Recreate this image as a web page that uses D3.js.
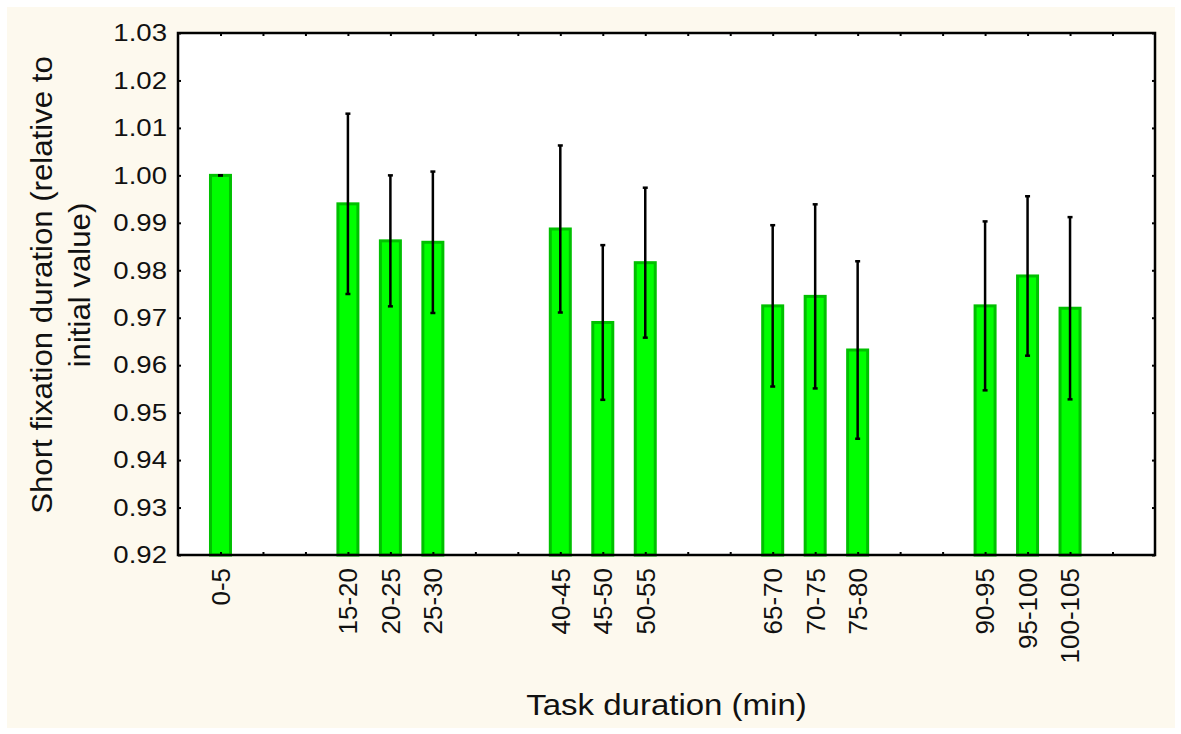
<!DOCTYPE html>
<html>
<head>
<meta charset="utf-8">
<script src="https://cdn.jsdelivr.net/npm/d3@7"></script>
<style>
  html, body { margin: 0; padding: 0; background: #ffffff; }
  svg { display: block; }
  text { font-family: "Liberation Sans", Arial, sans-serif; fill: #111; }
</style>
</head>
<body>
<svg id="chart" width="1181" height="734"></svg>
<script>
// Task-duration intervals that have a measurement (minutes)
const categories = ["0-5", "15-20", "20-25", "25-30", "40-45", "45-50", "50-55",
                    "65-70", "70-75", "75-80", "90-95", "95-100", "100-105"];
// Mean short fixation duration relative to the initial value
const means  = [1.000, 0.994, 0.9862, 0.9859, 0.9887, 0.9690, 0.9816,
                0.9725, 0.9745, 0.9632, 0.9725, 0.9788, 0.9720];
// Half-width of the error bars
const errors = [0.000, 0.019, 0.0138, 0.0149, 0.0176, 0.0163, 0.0158,
                0.0170, 0.0194, 0.0187, 0.0178, 0.0168, 0.0192];
// Y axis tick values
const yTicks = [0.92, 0.93, 0.94, 0.95, 0.96, 0.97, 0.98, 0.99, 1.00, 1.01, 1.02, 1.03];

const svg = d3.select("#chart");

// Cream page background
svg.append("rect")
  .attr("x", 7).attr("y", 7).attr("width", 1168).attr("height", 721)
  .attr("fill", "#fdf9ee");

const plotL = 178, plotR = 1155, plotT = 33, plotB = 555;

// Each 5-minute interval occupies one slot; slot index = interval start / 5
const slotOf = c => parseInt(c.split("-")[0], 10) / 5;
const x = d3.scaleLinear().domain([-1, 22]).range([plotL, plotR]);
const y = d3.scaleLinear().domain([0.92, 1.03]).range([plotB, plotT]);

const data = categories.map((c, i) => ({ c, slot: slotOf(c), m: means[i], e: errors[i] }));

// Plot area
svg.append("rect")
  .attr("x", plotL).attr("y", plotT)
  .attr("width", plotR - plotL).attr("height", plotB - plotT)
  .attr("fill", "#ffffff");

// Bars
const barW = 20;
svg.append("g").selectAll("rect").data(data).join("rect")
  .attr("x", d => x(d.slot) - barW / 2)
  .attr("y", d => y(d.m))
  .attr("width", barW)
  .attr("height", d => y(0.92) - y(d.m))
  .attr("fill", "#00ff00")
  .attr("stroke", "#00c000")
  .attr("stroke-width", 3);

// Error bars
const eg = svg.append("g").attr("stroke", "#000").attr("fill", "none");
eg.selectAll("line.v").data(data).join("line").attr("class", "v")
  .attr("x1", d => x(d.slot)).attr("x2", d => x(d.slot))
  .attr("y1", d => y(d.m + d.e)).attr("y2", d => y(d.m - d.e))
  .attr("stroke-width", 2.5);
eg.selectAll("line.t").data(data).join("line").attr("class", "t")
  .attr("x1", d => x(d.slot) - 2.5).attr("x2", d => x(d.slot) + 2.5)
  .attr("y1", d => y(d.m + d.e)).attr("y2", d => y(d.m + d.e))
  .attr("stroke-width", 2.5);
eg.selectAll("line.b").data(data).join("line").attr("class", "b")
  .attr("x1", d => x(d.slot) - 2.5).attr("x2", d => x(d.slot) + 2.5)
  .attr("y1", d => y(d.m - d.e)).attr("y2", d => y(d.m - d.e))
  .attr("stroke-width", 2.5);

// Small inward ticks on all four sides
const slots = d3.range(0, 22);
const axisStyle = g => {
  g.select(".domain").remove();
  g.selectAll(".tick line").attr("stroke", "#000").attr("stroke-width", 2);
  g.selectAll(".tick text").remove();
};
svg.append("g").attr("transform", `translate(0,${plotB})`)
  .call(d3.axisBottom(x).tickValues(slots).tickSizeInner(-3).tickSizeOuter(0)).call(axisStyle);
svg.append("g").attr("transform", `translate(0,${plotT})`)
  .call(d3.axisTop(x).tickValues(slots).tickSizeInner(-3).tickSizeOuter(0)).call(axisStyle);
svg.append("g").attr("transform", `translate(${plotL},0)`)
  .call(d3.axisLeft(y).tickValues(yTicks).tickSizeInner(-3).tickSizeOuter(0)).call(axisStyle);
svg.append("g").attr("transform", `translate(${plotR},0)`)
  .call(d3.axisRight(y).tickValues(yTicks).tickSizeInner(-3).tickSizeOuter(0)).call(axisStyle);

// Plot frame
svg.append("rect")
  .attr("x", plotL).attr("y", plotT)
  .attr("width", plotR - plotL).attr("height", plotB - plotT)
  .attr("fill", "none").attr("stroke", "#000").attr("stroke-width", 2.5);

// Y tick labels
svg.append("g").selectAll("text").data(yTicks).join("text")
  .attr("transform", d => `translate(${plotL - 11},${y(d)}) scale(1.2,1)`)
  .attr("text-anchor", "end")
  .attr("dy", "0.36em")
  .style("font-size", "23px")
  .text(d => d3.format(".2f")(d));

// X tick labels (rotated)
svg.append("g").selectAll("text").data(data).join("text")
  .attr("transform", d => `translate(${x(d.slot)},${plotB + 13}) rotate(-90)`)
  .attr("text-anchor", "end")
  .attr("dy", "0.36em")
  .style("font-size", "26px")
  .text(d => d.c);

// Axis titles
svg.append("text")
  .attr("transform", `translate(${(plotL + plotR) / 2},715) scale(1.1,1)`)
  .attr("text-anchor", "middle")
  .style("font-size", "30px")
  .text("Task duration (min)");

const yt = svg.append("text")
  .attr("transform", `translate(0,285) rotate(-90) scale(1.04,1)`)
  .attr("text-anchor", "middle")
  .style("font-size", "30px");
yt.append("tspan").attr("x", 0).attr("y", 52).text("Short fixation duration (relative to");
yt.append("tspan").attr("x", 0).attr("y", 90).text("initial value)");
</script>
</body>
</html>
